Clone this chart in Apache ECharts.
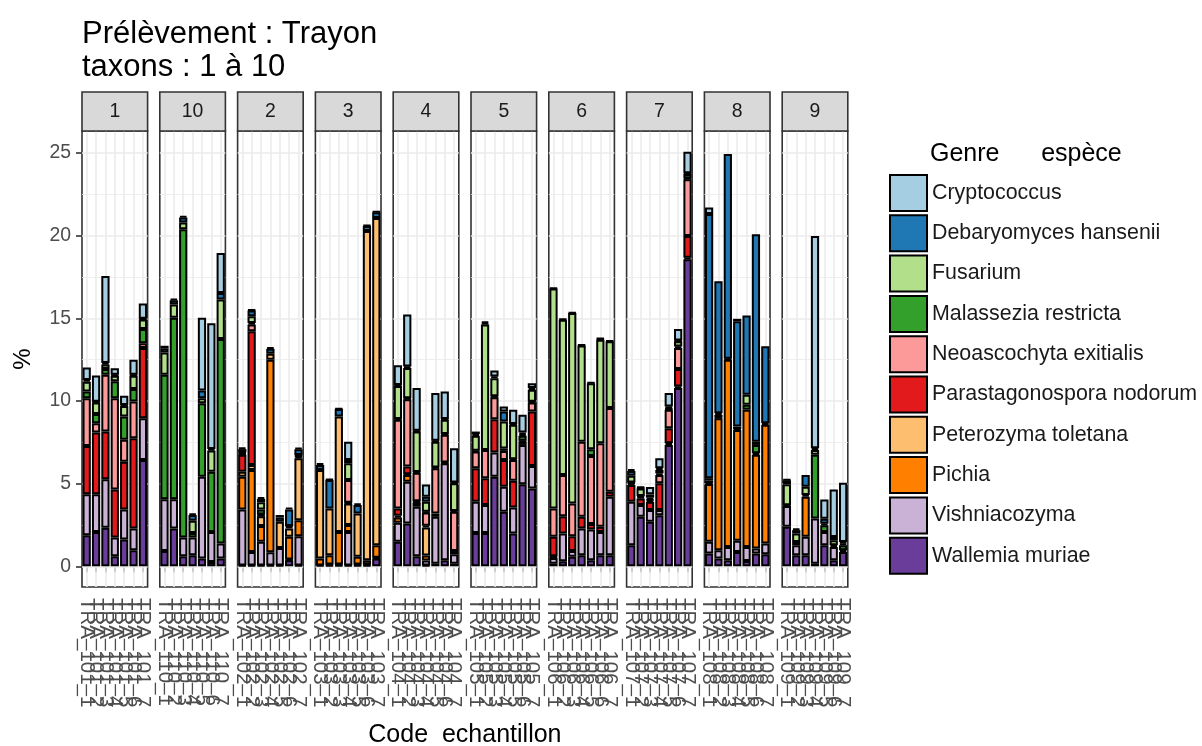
<!DOCTYPE html>
<html><head><meta charset="utf-8">
<script src="https://cdn.jsdelivr.net/npm/echarts@6/dist/echarts.min.js"></script>
<style>html,body{margin:0;padding:0;background:#fff}#c{width:1202px;height:746px}</style>
</head><body><div id="c"></div>
<script>
// ---------------- data ----------------
const facets = ['1','10','2','3','4','5','6','7','8','9'];
const facetCodes = ['101','110','102','103','104','105','106','107','108','109'];
const samples = ['1','2','3','4','5','6','7'];
const yTicks = [0,5,10,15,20,25];
const yGridLines = [0,2.5,5,7.5,10,12.5,15,17.5,20,22.5,25];
// legend order (top of stack first)
const species = ['Cryptococcus','Debaryomyces hansenii','Fusarium','Malassezia restricta','Neoascochyta exitialis','Parastagonospora nodorum','Peterozyma toletana','Pichia','Vishniacozyma','Wallemia muriae'];
const speciesColors = ['#A6CEE3','#1F78B4','#B2DF8A','#33A02C','#FB9A99','#E31A1C','#FDBF6F','#FF7F00','#CAB2D6','#6A3D9A'];
// values in %, 7 samples per facet, facets in order 1,10,2,3,4,5,6,7,8,9
const cryptococcus = [0.75,1.58,5.26,0.4,0.56,0.92,0.92, 0.15,0.1,0.1,0.1,4.39,7.6,2.42, 0.1,0.05,0.1,0.1,0.15,0.1,0.1, 0.1,0.05,0.05,1.1,0.1,0.05,0.05, 1.2,3.14,2.58,0.75,2.89,1.67,2.07, 0.16,0.1,0.37,0.31,0.86,1.07,0.3, 0,0,0,0,0,0.05,0, 0.1,0.05,0.45,0.6,0.81,0.7,1.3, 0.4,0,0,0.15,0,0,0, 0.05,0.1,0,12.84,1.16,2.88,3.58];
const debaryomyces = [0.1,0.05,0.1,0.05,0.05,0.05,0.05, 0.25,0.25,0.3,0.35,0.47,0.1,0.4, 0.2,0.35,0.2,0.3,0.25,1.0,0.35, 0.3,1.72,0.45,0.2,0.5,0.3,0.35, 0.05,0.1,0.05,0.3,0.05,0.05,0.05, 0.1,0.1,0.1,0.6,0.05,0.1,0.1, 0.05,0.05,0.05,0.05,0.05,0.05,0.05, 0.3,0.05,0.2,0.1,0.1,0.05,0.05, 15.98,7.99,12.4,6.37,4.79,12.54,4.65, 0.25,0.21,0.71,0.1,0.3,0.2,0.1];
const fusarium = [0.6,0.69,0.27,0.34,0.64,0.81,0.57, 1.35,0.81,0.41,0.73,0.3,1.28,2.39, 0.05,0.41,0.45,0,0,0,0.05, 0,0,0,1.01,0,0,0, 2.0,1.83,2.44,0.6,1.56,0.86,1.67, 0.9,7.58,1.1,1.63,2.08,0.1,0.72, 13.3,9.4,11.52,5.82,4.0,6.27,4.04, 0.4,0.46,0.1,0.21,0.05,0.31,0.26, 0.15,0,0,0,0.61,0.2,0, 1.27,0.51,0.5,0.3,0.1,0.3,0.1];
const malassezia = [0.4,0.56,0.34,1.02,1.41,0.75,0.86, 7.54,10.98,18.65,0.28,4.45,3.64,12.37, 0.05,0.1,0.3,0,0,0.05,0, 0,0,0,0,0,0,0, 0.05,0.05,0.05,0.05,0.05,0.05,0.05, 0.05,0,0.05,0.15,0.05,0.3,0.05, 0,0,0,0,0.41,0,0, 0.05,0.05,0.05,0.1,0.05,0.1,0.05, 0.15,0,0,0,0.3,0.5,0, 0.05,0.2,0.1,3.85,0.4,0.1,0.3];
const neoascochyta = [2.89,0.57,3.44,5.52,1.32,2.22,0.3, 0,0,0,0,0,0,0, 0.05,0.4,0.05,0,0,0,0.05, 0,0,0,1.37,0,0,0, 5.36,4.08,1.72,0.8,2.74,1.67,2.37, 1.01,1.72,1.33,0.55,1.25,0.05,0.55, 1.72,2.49,1.98,4.55,4.12,5.05,5.06, 0.1,0.1,0.1,0.5,1.12,1.27,3.44, 0,0.1,0,0,0,0,0, 0,0,0,0,0,0,0];
const parastagonospora = [2.93,3.74,2.89,2.91,2.89,5.46,4.24, 0,0,0,0,0,0,0, 1.02,8.09,0.05,0,0,0.1,0.1, 0,0,0,0.05,0,0,0, 0.45,0.46,0.05,0.1,0.2,0.05,0.2, 2.03,1.62,2.02,1.62,1.62,0.2,3.29, 1.18,1.05,0.89,0.7,0.33,0.31,0.3, 1.02,0.4,0.5,1.62,0.91,1.05,1.31, 0,0.15,0,0.15,0,0.1,0.1, 0,0,0,0,0,0,0];
const peterozyma = [0,0,0,0,0,0,0, 0,0,0,0,0,0,0, 0.3,0.3,0.6,0.36,1.6,0.5,3.74, 5.36,2.83,6.98,1.31,2.63,19.93,19.8, 0.1,0.05,0.05,1.7,0,0,0, 0,0,0,0,0,0,0, 0.05,0,0,0,0,0,0, 0,0,0,0,0,0,0, 0.05,0.05,0.05,0.05,0,0,0, 0,0,0,0,0,0,0];
const pichia = [0,0,0,0,0,0,0, 0,0,0,0,0,0,0, 1.98,4.96,0.95,11.65,0,1.38,0.97, 0.42,0.57,1.98,0.41,0.47,0.26,0.75, 0.32,0.4,0.24,0.3,0,0,0, 0,0,0,0,0,0,0, 0.05,0,0,0,0,0,0, 0,0,0,0,0,0,0, 3.5,7.99,11.33,6.71,8.3,5.67,7.18, 0,0,2.43,0,0,0,0];
const vishniacozyma = [2.47,2.27,2.93,1.13,1.82,1.32,2.53, 3.12,1.76,1.13,1.07,4.95,1.82,0.91, 3.39,0.82,1.43,0.8,1.05,0.05,1.77, 0.05,0.05,0.05,2.03,0.05,0.05,0.05, 1.15,2.53,2.99,0.3,2.83,5.87,0.57, 1.88,1.68,1.46,1.51,1.58,2.38,1.36, 0.34,1.68,0.36,1.62,1.86,1.41,3.54, 2.63,0.71,0.71,0.31,0.1,0.1,0.1, 0.71,0.5,0.81,0.67,0.85,0.3,0.65, 1.25,0.6,1.11,2.73,0.81,0.81,0.1];
const wallemia = [1.88,2.08,2.33,0.61,1.62,0.97,6.43, 0.93,2.29,0.61,0.67,0.47,0.26,0.47, 0.05,0.05,0.05,0.05,0.05,0.36,0.05, 0,0.05,0.05,0.05,0.05,0.05,0.47, 1.48,2.59,0.61,0.05,0.16,0.36,0.16, 2.02,2.02,5.42,3.3,1.98,4.96,4.71, 0.16,0.3,0.57,0.67,0.36,0.67,0.67, 1.27,2.99,2.69,3.09,7.34,10.78,18.57, 0.77,0.47,0.36,0.87,0.32,0.77,0.73, 2.39,0.67,0.67,0.16,1.27,0.36,0.87];
const speciesValues = [cryptococcus, debaryomyces, fusarium, malassezia, neoascochyta, parastagonospora, peterozyma, pichia, vishniacozyma, wallemia];

// ---------------- layout ----------------
const FONT = 'Liberation Sans';
const PANEL_L = 82, PANEL_W = 65.6, PANEL_GAP = 12.2, PANEL_T = 131, PANEL_H = 456;
const STRIP_T = 92, STRIP_H = 39;
const nS = samples.length;

// y range as ggplot: 5% expansion of [0, max total]
let maxTotal = 0;
for (let i = 0; i < facets.length * nS; i++) {
  let t = 0; speciesValues.forEach(a => t += a[i]); if (t > maxTotal) maxTotal = t;
}
const yMin = -0.05 * maxTotal, yMax = 1.05 * maxTotal;

const grids = [], xAxes = [], yAxes = [], series = [], graphics = [];
facets.forEach((f, fi) => {
  const left = PANEL_L + fi * (PANEL_W + PANEL_GAP);
  const cats = samples.map(s => 'TRA_' + facetCodes[fi] + '_' + s);
  grids.push({left: left, top: PANEL_T, width: PANEL_W, height: PANEL_H, show: true,
    backgroundColor: '#ffffff', borderColor: '#333333', borderWidth: 1.6, containLabel: false, outerBoundsMode: 'none'});
  xAxes.push({type: 'category', gridIndex: fi, data: cats,
    axisLine: {show: false},
    axisTick: {show: true, alignWithLabel: true, interval: 0, length: 6, lineStyle: {color: '#333333', width: 1.6}},
    axisLabel: {show: true, interval: 0, rotate: -90, margin: 11, fontFamily: FONT, fontSize: 20.5, color: '#4d4d4d', hideOverlap: false},
    splitLine: {show: false}});
  yAxes.push({type: 'value', gridIndex: fi, min: yMin, max: yMax,
    axisLine: {show: false},
    axisTick: {show: fi === 0, length: 6, customValues: yTicks, lineStyle: {color: '#333333', width: 1.6}},
    axisLabel: {show: fi === 0, margin: 11, customValues: yTicks, fontFamily: FONT, fontSize: 19.4, color: '#4d4d4d'},
    splitLine: {show: false},
    name: fi === 0 ? '%' : '', nameLocation: 'middle', nameRotate: 90, nameGap: 47,
    nameTextStyle: {fontFamily: FONT, fontSize: 24, color: '#000'}});
  // stack bottom -> top : Wallemia ... Cryptococcus
  for (let si = species.length - 1; si >= 0; si--) {
    const arr = speciesValues[si].slice(fi * nS, fi * nS + nS).map(v => v > 0 ? v : null);
    const s = {type: 'bar', name: species[si], xAxisIndex: fi, yAxisIndex: fi, stack: 'f' + fi,
      data: arr, barWidth: '88%', animation: false,
      itemStyle: {color: speciesColors[si], borderColor: '#000000', borderWidth: 2}};
    if (si === species.length - 1) {
      const md = [];
      yGridLines.forEach(v => md.push({yAxis: v, lineStyle: {color: '#ebebeb', width: (v % 5 === 0) ? 1.6 : 0.8, type: 'solid'}}));
      cats.forEach(c => md.push({xAxis: c, lineStyle: {color: '#ebebeb', width: 1.6, type: 'solid'}}));
      s.markLine = {silent: true, z: 1, symbol: ['none', 'none'], animation: false, label: {show: false},
        lineStyle: {color: '#ebebeb', type: 'solid'}, emphasis: {disabled: true}, data: md};
    }
    series.push(s);
  }
  // facet strip
  graphics.push({type: 'rect', shape: {x: left, y: STRIP_T, width: PANEL_W, height: STRIP_H},
    style: {fill: '#d9d9d9', stroke: '#333333', lineWidth: 1.6}, z: 10});
  graphics.push({type: 'text', x: left + PANEL_W / 2, y: STRIP_T + STRIP_H / 2,
    style: {text: f, fontFamily: FONT, fontSize: 19.4, fill: '#1a1a1a', textAlign: 'center', textVerticalAlign: 'middle'}, z: 11});
});

graphics.push({type: 'text', x: (PANEL_L + PANEL_L + 10 * PANEL_W + 9 * PANEL_GAP) / 2, y: 735,
  style: {text: 'Code  echantillon', fontFamily: FONT, fontSize: 25, fill: '#000', textAlign: 'center', textVerticalAlign: 'middle'}});
graphics.push({type: 'text', x: 930, y: 154,
  style: {text: 'Genre      espèce', fontFamily: FONT, fontSize: 25, fill: '#000', textAlign: 'left', textVerticalAlign: 'middle'}});

const option = {
  backgroundColor: '#ffffff',
  animation: false,
  title: {text: 'Prélèvement : Trayon\ntaxons : 1 à 10', left: 82, top: 18, padding: 0,
    textStyle: {fontFamily: FONT, fontSize: 31, fontWeight: 'normal', color: '#000', lineHeight: 33}},
  legend: {orient: 'vertical', left: 889, top: 174, padding: 0, itemWidth: 37, itemHeight: 36, itemGap: 2.3, icon: 'rect',
    data: species, selectedMode: false,
    textStyle: {fontFamily: FONT, fontSize: 21.4, color: '#1a1a1a'}},
  grid: grids, xAxis: xAxes, yAxis: yAxes, series: series, graphic: graphics
};
const chart = echarts.init(document.getElementById('c'), null, {renderer: 'canvas'});
chart.setOption(option);
</script></body></html>
